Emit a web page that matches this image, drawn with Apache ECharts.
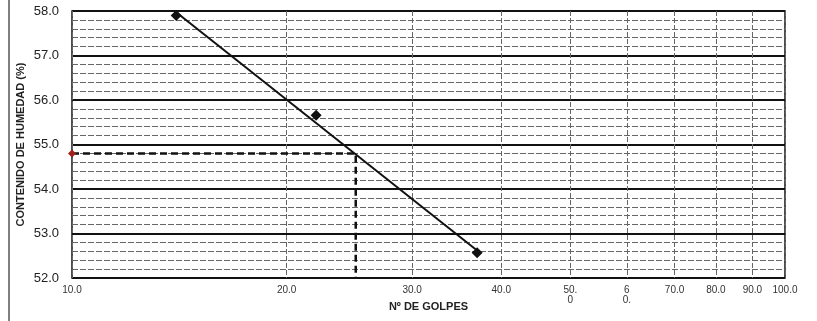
<!DOCTYPE html>
<html>
<head>
<meta charset="utf-8">
<script src="https://cdn.jsdelivr.net/npm/echarts@6/dist/echarts.min.js"></script>
<style>
html,body{margin:0;padding:0;background:#fff;}
#chart{width:817px;height:321px;}
</style>
</head>
<body>
<div id="chart"></div>
<script>
// Data
const golpes = [14, 22, 37];                 // Nº de golpes
const humedad = [57.9, 55.66, 52.57];        // contenido de humedad (%)
const trendX = [14, 37];                     // trend line ends
const trendY = [57.97, 52.62];
const ll25X = [10, 25, 25];                  // dashed reading at 25 golpes
const ll25Y = [54.8, 54.8, 52.0];
const xTicks = [10, 20, 30, 40, 50, 60, 70, 80, 90, 100];
const xTickLabels = ['10.0', '20.0', '30.0', '40.0', '50.\n0', '6\n0.', '70.0', '80.0', '90.0', '100.0'];
const yTicks = [52, 53, 54, 55, 56, 57, 58];

const font = 'Liberation Sans, Arial, sans-serif';
const chart = echarts.init(document.getElementById('chart'));
chart.setOption({
  animation: false,
  backgroundColor: '#fff',
  grid: {left: 72, right: 32, top: 11, bottom: 43, outerBoundsMode: 'none', containLabel: false,
         show: true, borderColor: '#111', borderWidth: 1.5, backgroundColor: 'transparent'},
  xAxis: {
    type: 'log', logBase: 10, min: 10, max: 100,
    name: 'Nº DE GOLPES', nameLocation: 'middle', nameGap: 23, nameMoveOverlap: false,
    nameTextStyle: {fontFamily: font, fontWeight: 'bold', fontSize: 11, color: '#222'},
    axisLine: {show: false},
    axisTick: {show: false, customValues: xTicks},
    axisLabel: {
      customValues: xTicks,
      fontFamily: font, fontSize: 10, color: '#333', margin: 7, lineHeight: 10,
      formatter: function (v) { const i = xTicks.indexOf(Math.round(v)); return i >= 0 ? xTickLabels[i] : ''; }
    },
    splitLine: {show: true, lineStyle: {color: '#666', width: 1, type: [5, 2]}}
  },
  yAxis: {
    type: 'value', min: 52, max: 58, interval: 1,
    name: 'CONTENIDO DE HUMEDAD (%)', nameLocation: 'middle', nameGap: 46, nameMoveOverlap: false,
    nameTextStyle: {fontFamily: font, fontWeight: 'bold', fontSize: 11, color: '#222'},
    axisLine: {show: false}, axisTick: {show: false},
    axisLabel: {fontFamily: font, fontSize: 13, color: '#222', margin: 13, formatter: v => v.toFixed(1)},
    splitLine: {show: true, lineStyle: {color: '#111', width: 2}},
    minorTick: {show: false, splitNumber: 5},
    minorSplitLine: {show: true, lineStyle: {color: '#666', width: 1, type: [6, 2]}}
  },
  series: [
    {
      type: 'line', data: ll25X.map((x, i) => [x, ll25Y[i]]),
      symbol: 'none', lineStyle: {color: '#111', width: 2.5, type: [7, 4]}, z: 3
    },
    {
      type: 'scatter', data: [[ll25X[0], ll25Y[0]]],
      symbol: 'diamond', symbolSize: 8, itemStyle: {color: '#a0201c', opacity: 1}, z: 5
    },
    {
      type: 'line', data: trendX.map((x, i) => [x, trendY[i]]),
      symbol: 'none', lineStyle: {color: '#111', width: 2}, z: 4
    },
    {
      type: 'scatter', data: golpes.map((x, i) => [x, humedad[i]]),
      symbol: 'diamond', symbolSize: 11, itemStyle: {color: '#111', opacity: 1}, z: 6
    }
  ],
  graphic: [
    {type: 'line', shape: {x1: 9, y1: 0, x2: 9, y2: 321}, style: {stroke: '#555', lineWidth: 1.5}}
  ]
});
</script>
</body>
</html>
